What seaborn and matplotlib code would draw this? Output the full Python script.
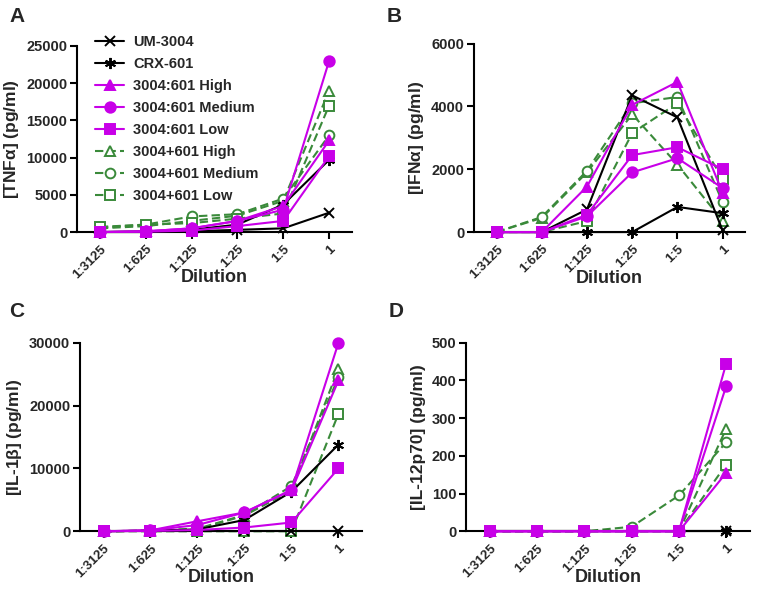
import numpy as np
import pandas as pd
import matplotlib
matplotlib.use("Agg")
import matplotlib.pyplot as plt
import seaborn as sns

# --- datos ---
dilutions = ["1:3125", "1:625", "1:125", "1:25", "1:5", "1"]
series_names = ["UM-3004", "CRX-601", "3004:601 High", "3004:601 Medium", "3004:601 Low",
                "3004+601 High", "3004+601 Medium", "3004+601 Low"]

# filas en el orden de series_names
tnfa_vals = [
    [0, 0, 100, 300, 500, 2600],
    [0, 100, 300, 1000, 3700, 9700],
    [0, 100, 500, 1500, 3500, 12300],
    [0, 100, 500, 1500, 3000, 23000],
    [0, 50, 200, 800, 1500, 10200],
    [500, 800, 1500, 2200, 4200, 19000],
    [600, 1000, 2100, 2400, 4500, 13000],
    [700, 1000, 1200, 1800, 2500, 17000],
]
ifna_vals = [
    [0, 0, 720, 4350, 3650, 50],
    [0, 0, 0, 0, 800, 600],
    [0, 0, 1450, 4050, 4780, 1250],
    [0, 0, 500, 1900, 2350, 1400],
    [0, 0, 550, 2450, 2700, 2000],
    [0, 450, 1900, 3750, 2150, 350],
    [0, 480, 1950, 4100, 4300, 950],
    [0, 0, 350, 3150, 4100, 1700],
]
il1b_vals = [
    [0, 0, 0, 0, 0, 0],
    [0, 100, 300, 1800, 6300, 13800],
    [0, 150, 1600, 3000, 6500, 24000],
    [0, 150, 1000, 3000, 6600, 30000],
    [0, 50, 200, 600, 1400, 10000],
    [0, 100, 300, 2500, 6500, 25900],
    [0, 100, 400, 2600, 7200, 24500],
    [0, 0, 0, 0, 0, 18700],
]
il12_vals = [
    [0, 0, 0, 0, 0, 0],
    [0, 0, 0, 0, 0, 0],
    [0, 0, 0, 0, 0, 155],
    [0, 0, 0, 0, 0, 385],
    [0, 0, 0, 0, 0, 445],
    [0, 0, 0, 0, 0, 272],
    [0, 0, 0, 12, 95, 236],
    [0, 0, 0, 0, 0, 177],
]

MAGENTA = "#C800E8"
VERDE = "#3A8A3A"
asterisco = (6, 2, 0)

estilos = {
    "UM-3004":         dict(color="black", marker="x", ls="-", mfc="black", ms=7, z=3),
    "CRX-601":         dict(color="black", marker=asterisco, ls="-", mfc="black", ms=8, z=3),
    "3004:601 High":   dict(color=MAGENTA, marker="^", ls="-", mfc=MAGENTA, ms=7.5, z=4),
    "3004:601 Medium": dict(color=MAGENTA, marker="o", ls="-", mfc=MAGENTA, ms=7.5, z=4),
    "3004:601 Low":    dict(color=MAGENTA, marker="s", ls="-", mfc=MAGENTA, ms=7, z=4),
    "3004+601 High":   dict(color=VERDE, marker="^", ls=(0, (4, 2)), mfc="white", ms=7, z=2),
    "3004+601 Medium": dict(color=VERDE, marker="o", ls=(0, (4, 2)), mfc="white", ms=7, z=2),
    "3004+601 Low":    dict(color=VERDE, marker="s", ls=(0, (4, 2)), mfc="white", ms=7, z=2),
}

sns.set_theme(style="ticks")
plt.rcParams["font.family"] = ["Liberation Sans", "DejaVu Sans"]
plt.rcParams["font.weight"] = "bold"
plt.rcParams["axes.labelweight"] = "bold"
plt.rcParams["mathtext.default"] = "regular"

fig = plt.figure(figsize=(7.62, 5.89), dpi=100)

paneles = [
    ("A", tnfa_vals, "[TNF$\\alpha$] (pg/ml)", [0, 5000, 10000, 15000, 20000, 25000], [0.101, 0.606, 0.361, 0.316]),
    ("B", ifna_vals, "[IFN$\\alpha$] (pg/ml)", [0, 2000, 4000, 6000], [0.622, 0.606, 0.356, 0.320]),
    ("C", il1b_vals, "[IL-1$\\beta$] (pg/ml)", [0, 10000, 20000, 30000], [0.105, 0.098, 0.370, 0.320]),
    ("D", il12_vals, "[IL-12p70] (pg/ml)", [0, 100, 200, 300, 400, 500], [0.612, 0.098, 0.372, 0.320]),
]
pos_letras = {"A": (0.012, 0.988), "B": (0.508, 0.988), "C": (0.012, 0.488), "D": (0.510, 0.488)}

ejes = []
for letra, valores, ylabel, yticks, rect in paneles:
    ax = fig.add_axes(rect)
    ejes.append(ax)
    for i, nombre in enumerate(series_names):
        st = estilos[nombre]
        df = pd.DataFrame({"pos": np.arange(len(dilutions)), "val": valores[i]})
        sns.lineplot(data=df, x="pos", y="val", ax=ax, color=st["color"], marker=st["marker"],
                     linestyle=st["ls"], markerfacecolor=st["mfc"], markeredgecolor=st["color"],
                     markersize=st["ms"], markeredgewidth=1.4, linewidth=1.5, label=nombre,
                     clip_on=False, zorder=st["z"], errorbar=None, sort=False, legend=False)
    ax.set_xlim(-0.5, 5.5)
    ax.set_ylim(0, yticks[-1])
    ax.set_yticks(yticks)
    ax.set_xticks(np.arange(len(dilutions)))
    ax.set_xticklabels(dilutions, rotation=45, ha="right", rotation_mode="anchor")
    ax.tick_params(axis="both", width=1.5, length=5, color="black", pad=2)
    ax.tick_params(axis="y", labelsize=10.5)
    ax.tick_params(axis="x", labelsize=9.5, pad=3)
    for t in ax.get_xticklabels() + ax.get_yticklabels():
        t.set_fontweight("bold")
    ax.set_xlabel("Dilution", fontsize=13, fontweight="bold")
    ax.xaxis.set_label_coords(0.5, -0.245)
    ax.xaxis.label.set_va("center")
    ax.set_ylabel(ylabel, fontsize=12.5, fontweight="bold", labelpad=4)
    for s in ["left", "bottom"]:
        ax.spines[s].set_linewidth(1.5)
        ax.spines[s].set_color("black")
    sns.despine(ax=ax)
    fig.text(*pos_letras[letra], letra, fontsize=15, fontweight="bold", va="top", ha="left")

handles, labels = ejes[0].get_legend_handles_labels()
fig.legend(handles, labels, loc="upper left", bbox_to_anchor=(0.125, 0.940), frameon=False,
           handlelength=2.0, handletextpad=0.6, labelspacing=0.55,
           borderpad=0, borderaxespad=0, prop={"weight": "bold", "size": 10.5})

plt.savefig("out.png", dpi=100)
plt.close(fig)
